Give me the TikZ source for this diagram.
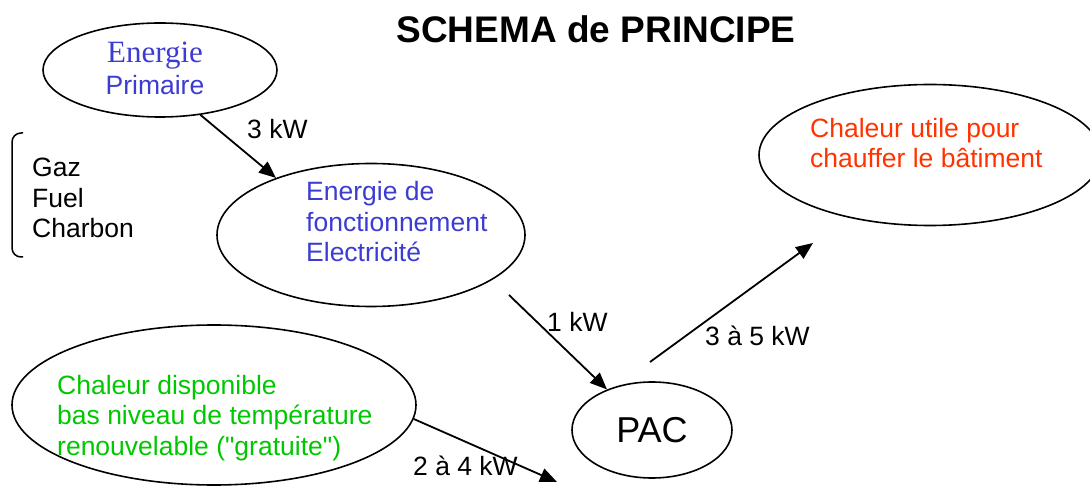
\documentclass[tikz,border=0pt]{standalone}
\usepackage{fontspec}
\setmainfont{Liberation Sans}[Ligatures=TeXOff]
\newfontfamily\serifE{Liberation Serif}
\usetikzlibrary{shapes.geometric,arrows.meta}
\definecolor{energyblue}{RGB}{60,60,210}
\definecolor{freegreen}{RGB}{0,200,0}
\definecolor{heatred}{RGB}{255,51,0}

\begin{document}
\begin{tikzpicture}[x=1pt, y=-1pt]
				\tikzset{
					bubble/.style={ellipse, draw=black, line width=1.6pt, inner sep=0pt},
					flow/.style={draw=black, line width=1.8pt, -{Triangle[length=17pt,width=14pt]}},
					txt/.style={inner sep=0pt, anchor=base west, align=left, font=\fontsize{26.5}{30.5}\selectfont}
				}
				\useasboundingbox (0,0) rectangle (1090,486);
				\clip (0,0) rectangle (1090,486);
				
				% Title
				\node[inner sep=0pt, anchor=base, font=\fontsize{37}{40}\selectfont\bfseries] (title) at (596,43) {SCHEMA de PRINCIPE};
				
				% Ellipses
				\node[bubble, minimum width=234pt, minimum height=94pt] (prim) at (160,70) {};
				\node[bubble, minimum width=308pt, minimum height=143pt] (fonct) at (371,235) {};
				\node[bubble, minimum width=160pt, minimum height=96pt, font=\fontsize{36}{40}\selectfont] (pac) at (652,430) {PAC};
				\node[bubble, minimum width=404pt, minimum height=160pt] (dispo) at (214,405) {};
				\node[bubble, minimum width=342pt, minimum height=141pt] (utile) at (930,155) {};
				
				% Texts (base = last line)
				\node[inner sep=0pt, anchor=base, text=energyblue, font=\serifE\fontsize{31}{32}\selectfont] (primA) at (155,63) {Energie};
				\node[txt, anchor=base, text=energyblue] (primB) at (155,95) {Primaire};
				\node[txt] (fuels) at (32,238) {Gaz\\Fuel\\Charbon};
				\node[txt, text=energyblue] (fonctTxt) at (306,262) {Energie de\\fonctionnement\\Electricit\'e};
				\node[txt, text=heatred] (utileTxt) at (810,168) {Chaleur utile pour\\chauffer le b\^atiment};
				\node[txt, text=freegreen] (dispoTxt) at (57,455) {Chaleur disponible\\bas niveau de temp\'erature\\renouvelable ("gratuite")};
				
				% Bracket
				\draw[line width=1.5pt, rounded corners=9pt] (23,133) -- (12,133) -- (12,257) -- (23,257);
				
				% Flows
				\coordinate (c1) at (509,295);
				\coordinate (c2) at (557,482);
				\coordinate (c3) at (650,362);
				\coordinate (c4) at (813,243);
				
				\draw[flow] (prim.-48) -- (fonct.149);
				\draw[flow] (c1) -- (pac.138);
				\draw[flow] (dispo.-4) -- (c2);
				\draw[flow] (c3) -- (c4);
				
				\node[txt] (kw3) at (247,139) {3 kW};
				\node[txt] (kw1) at (547,332) {1 kW};
				\node[txt] (kw35) at (705,345) {3 \`a 5 kW};
				\node[txt] (kw24) at (413,475) {2 \`a 4 kW};
			\end{tikzpicture}
\end{document}
